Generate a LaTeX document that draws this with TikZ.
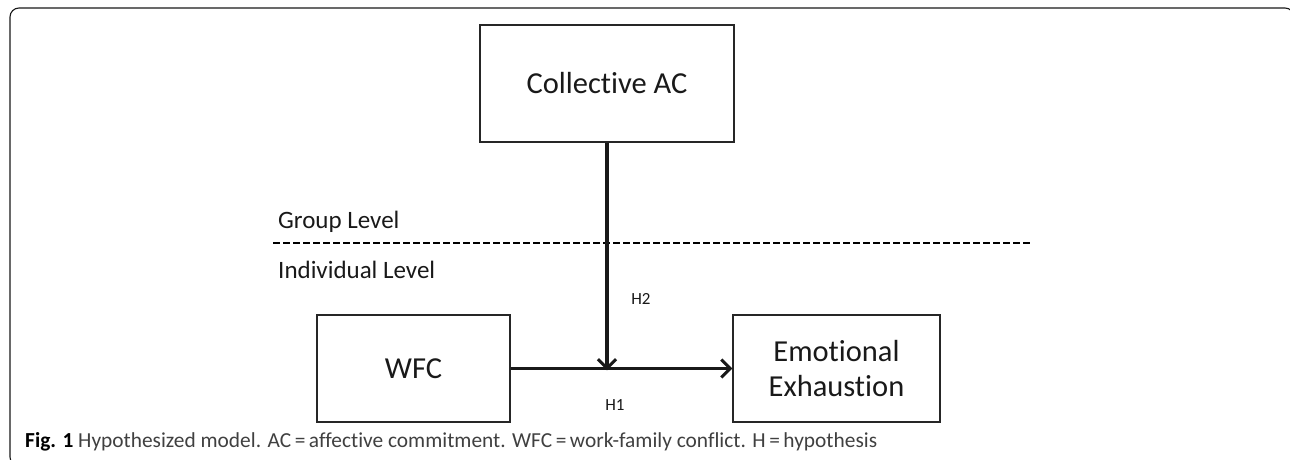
\documentclass[tikz,border=0pt]{standalone}
\usepackage{fontspec}
\setmainfont{Carlito}[Ligatures=NoCommon]
\usetikzlibrary{arrows.meta}
\begin{document}
\begin{tikzpicture}[x=1pt,y=-1pt,
  box/.style={draw=black!85,line width=1.2pt,minimum width=#1,inner sep=0pt,align=center,font=\fontsize{30.5}{35}\selectfont,text=black!90},
  lvl/.style={anchor=west,font=\fontsize{25}{30}\selectfont,text=black!90,inner sep=0pt},
  hyp/.style={font=\fontsize{17}{20}\selectfont,inner sep=0pt,text=black!90},
  thick arrow/.style={line width=3.6pt,draw=black!90,-{Straight Barb[length=9pt,width=18pt,line width=3pt]}}]
\useasboundingbox (0,0) rectangle (1290,459);
\clip (0,0) rectangle (1290,459);
\draw[line width=1.1pt,rounded corners=9pt,black!90] (10,8) rectangle (1294,466);
% nodes
\node[box=254pt,minimum height=117pt] (cac) at (607,83.5) {Collective AC};
\node[box=193pt,minimum height=107pt] (wfc) at (413.5,368.5) {WFC};
\node[box=207pt,minimum height=107pt] (ee) at (836.5,368.5) {Emotional\\Exhaustion};
% level labels and divider
\node[lvl] (grp) at (278,222) {Group Level};
\node[lvl] (ind) at (278,270) {Individual Level};
\coordinate (dl) at (273,243);
\coordinate (dr) at (1030,243);
\draw[line width=2.2pt,dash pattern=on 6.5pt off 3.5pt] (dl) -- (dr);
% arrows
\draw[thick arrow] (wfc.east) -- (ee.west);
\coordinate (meet) at (607,368.5);
\draw[thick arrow] (cac.south) -- ([yshift=-1.8pt]meet);
\node[hyp] (h2) at (641,299) {H2};
\node[hyp] (h1) at (615,405) {H1};
% caption
\node[anchor=west,inner sep=0pt,text=black!75] (cap) at (25,442)
  {\resizebox{852pt}{!}{\fontsize{19}{22}\selectfont{\bfseries\color{black}Fig. 1} Hypothesized model. AC\,=\,affective commitment. WFC\,=\,work-family conflict. H\,=\,hypothesis}};
\end{tikzpicture}
\end{document}
